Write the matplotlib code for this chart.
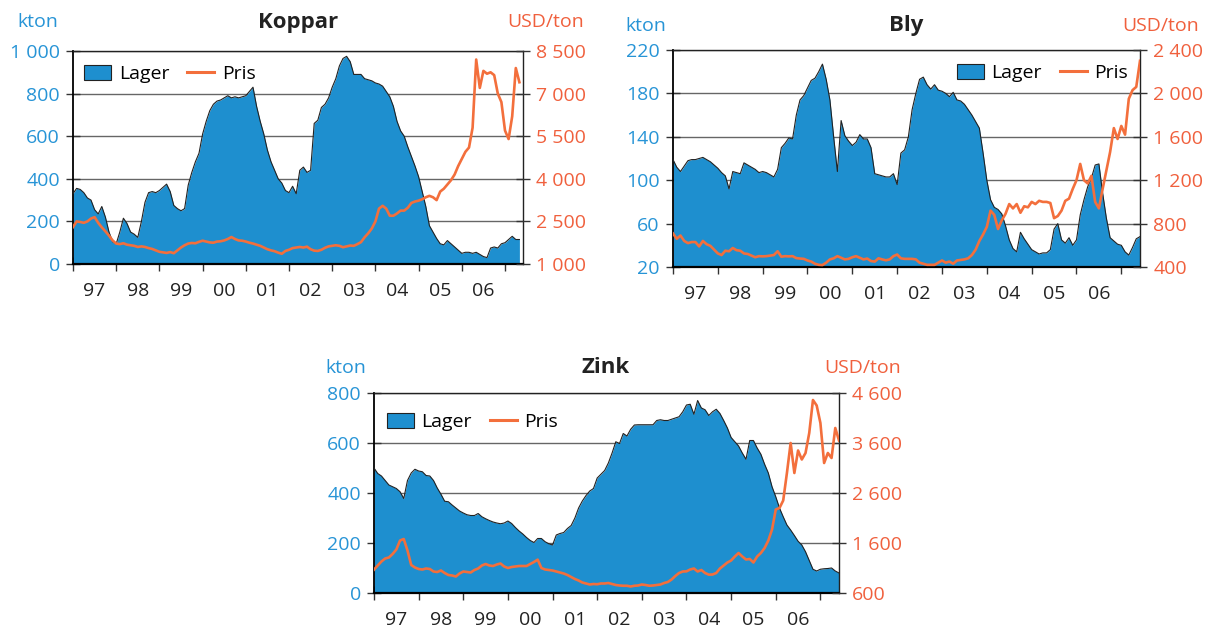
import numpy as np
import matplotlib
matplotlib.use('Agg')
import matplotlib.pyplot as plt
from matplotlib.patches import Patch
from matplotlib.lines import Line2D
from matplotlib.ticker import FuncFormatter

plt.rcParams['font.family'] = ['Open Sans', 'DejaVu Sans']

# monthly values, Jan 1997 onwards
koppar_lager = [330, 355, 350, 335, 310, 300, 255, 235, 270, 220, 150, 105,
                95, 150, 215, 190, 150, 140, 125, 200, 290, 335, 340, 335,
                345, 360, 375, 340, 275, 260, 250, 260, 370, 430, 480, 520,
                610, 670, 720, 750, 765, 770, 780, 790, 780, 785, 780, 785,
                790, 810, 830, 740, 670, 610, 535, 480, 440, 400, 380, 345,
                335, 365, 330, 440, 455, 430, 440, 660, 675, 735, 750, 780,
                830, 870, 930, 965, 975, 950, 890, 890, 890, 870, 865, 860,
                850, 845, 835, 810, 785, 740, 670, 625, 600, 550, 505, 460,
                410, 340, 270, 180, 150, 120, 95, 90, 110, 95, 80, 65,
                50, 55, 55, 50, 55, 45, 35, 30, 75, 80, 75, 95,
                100, 115, 130, 115, 115]
koppar_pris = [2300, 2500, 2480, 2450, 2500, 2600, 2650, 2450, 2290, 2150, 2000, 1830,
               1720, 1700, 1730, 1680, 1660, 1640, 1600, 1620, 1600, 1560, 1530, 1480,
               1430, 1410, 1390, 1420, 1380, 1480, 1580, 1660, 1720, 1740, 1730, 1780,
               1820, 1790, 1760, 1750, 1790, 1800, 1830, 1880, 1950, 1880, 1830, 1820,
               1790, 1750, 1720, 1680, 1640, 1580, 1520, 1480, 1450, 1400, 1360, 1460,
               1500, 1560, 1580, 1600, 1580, 1610, 1520, 1470, 1460, 1500, 1570, 1620,
               1640, 1660, 1640, 1590, 1620, 1650, 1640, 1700, 1770, 1940, 2080, 2250,
               2500, 2950, 3050, 2950, 2700, 2700, 2780, 2880, 2880, 2980, 3150, 3200,
               3230, 3280, 3350, 3400, 3350, 3250, 3550, 3650, 3800, 3950, 4150, 4450,
               4700, 4950, 5100, 5800, 8200, 7200, 7800, 7700, 7750, 7650, 7000, 6700,
               5700, 5400, 6200, 7900, 7400]

bly_lager = [119, 112, 108, 113, 118, 119, 119, 120, 121, 119, 117, 114,
             111, 107, 104, 92, 108, 107, 106, 116, 114, 112, 110, 107,
             108, 107, 105, 103, 110, 130, 134, 139, 138, 160, 174, 178,
             185, 192, 194, 200, 207, 193, 174, 140, 108, 155, 141, 136,
             132, 135, 142, 138, 138, 130, 106, 105, 104, 103, 103, 106,
             96, 125, 128, 140, 165, 180, 193, 195, 188, 184, 188, 183,
             182, 180, 177, 181, 174, 173, 170, 165, 160, 154, 148, 125,
             100, 82, 75, 73, 69, 58, 45, 37, 34, 52, 46, 41,
             36, 34, 32, 33, 33, 36, 55, 60, 45, 42, 47, 40,
             45, 68, 82, 94, 102, 114, 115, 88, 65, 47, 44, 41,
             40, 34, 31, 38, 46, 48]
bly_pris = [709, 660, 690, 640, 620, 630, 630, 590, 640, 610, 595, 560,
            525, 510, 550, 545, 575, 555, 550, 525, 520, 505, 490, 500,
            498, 500, 505, 510, 545, 495, 500, 498, 500, 482, 478, 475,
            460, 450, 430, 420, 418, 440, 470, 480, 500, 485, 470, 475,
            490, 500, 485, 470, 478, 455, 450, 480, 470, 462, 470, 500,
            515, 480, 475, 475, 475, 470, 440, 430, 420, 420, 420, 440,
            460, 440, 450, 430, 460, 465, 470, 480, 510, 560, 640, 700,
            770, 920, 880, 750, 830, 890, 980, 940, 980, 900, 960, 950,
            1000, 980, 1010, 1000, 1000, 990, 850, 870, 920, 1010, 1030, 1120,
            1200, 1350, 1200, 1170, 1240, 1000, 940, 1120, 1290, 1460, 1680, 1580,
            1700, 1620, 1950, 2030, 2060, 2300]

zink_lager = [500, 478, 468, 450, 432, 425, 418, 405, 378, 450, 480, 495,
              488, 485, 470, 468, 450, 420, 395, 367, 365, 352, 340, 328,
              320, 313, 310, 310, 318, 305, 297, 290, 284, 280, 277, 280,
              288, 278, 262, 248, 236, 222, 210, 202, 218, 218, 205, 197,
              192, 232, 238, 242, 258, 270, 300, 340, 368, 390, 408, 418,
              460, 475, 490, 520, 560, 605, 598, 638, 628, 655, 672, 673,
              673, 673, 673, 673, 690, 693, 690, 690, 695, 700, 705, 725,
              752, 755, 715, 770, 740, 733, 710, 725, 735, 718, 690, 660,
              622, 605, 588, 560, 535, 610, 610, 580, 555, 515, 480, 425,
              385, 340, 305, 272, 252, 230, 207, 192, 165, 130, 95, 88,
              95, 97, 98, 100, 88, 80]
zink_pris = [1067, 1150, 1230, 1290, 1310, 1380, 1470, 1650, 1680, 1450, 1160, 1110,
             1080, 1070, 1090, 1080, 1030, 1020, 1050, 1000, 960, 950, 930, 990,
             1030, 1020, 1010, 1060, 1090, 1150, 1180, 1150, 1140, 1170, 1190, 1130,
             1100, 1120, 1130, 1140, 1140, 1140, 1180, 1220, 1267, 1100, 1070, 1060,
             1050, 1030, 1010, 990, 960, 920, 880, 850, 810, 790, 770, 780,
             775, 790, 790, 800, 780, 760, 750, 745, 745, 730, 745, 750,
             770, 760, 745, 750, 760, 770, 800, 820, 870, 940, 1000, 1030,
             1033, 1070, 1090, 1030, 1060, 1000, 967, 970, 1000, 1090, 1150, 1210,
             1250, 1330, 1400, 1330, 1270, 1280, 1210, 1330, 1400, 1500, 1650, 1870,
             2270, 2300, 2450, 3000, 3600, 3000, 3450, 3270, 3400, 3800, 4460, 4350,
             4000, 3200, 3400, 3300, 3900, 3650]

year_labels = ['97', '98', '99', '00', '01', '02', '03', '04', '05', '06']

W, H = 1211, 634
BLUE = '#1e8fcf'
BLUE_TXT = '#2794d6'
ORANGE = '#f36f3c'
ORANGE_TXT = '#f0603d'
DARK = '#222222'
FS = 14


def fmt(v, pos):
    return '{:,.0f}'.format(v).replace(',', ' ')


def panel(box, title, lager, pris, lticks, pticks, leg_loc, leg_anchor, texts):
    l, t, r, b = box
    ax = fig.add_axes([l / W, 1 - b / H, (r - l) / W, (b - t) / H])
    x = 1997 + np.arange(len(lager)) / 12.0
    ax.fill_between(x, lticks[0], lager, color=BLUE, lw=0, zorder=2)
    ax.plot(x, lager, color=DARK, lw=0.8, zorder=3)
    ax.set_ylim(lticks[0], lticks[-1])
    ax.set_yticks(lticks)
    ax.yaxis.set_major_formatter(FuncFormatter(fmt))
    ax.grid(axis='y', color='#666666', lw=1.0, zorder=1)
    ax.set_axisbelow(True)
    ax.set_xlim(1997, 1997 + 125 / 12.0)
    ax.set_xticks(np.arange(1997, 2008))
    ax.set_xticklabels([])
    ax.set_xticks(np.arange(1997, 2007) + 0.5, minor=True)
    ax.set_xticklabels(year_labels, minor=True)
    ax.tick_params(axis='x', which='major', direction='inout', length=10,
                   color='#333333', width=1)
    ax.tick_params(axis='x', which='minor', length=0, pad=13,
                   labelsize=FS, labelcolor=DARK)
    ax.tick_params(axis='y', direction='inout', length=10, color='#333333',
                   width=1, labelsize=FS, labelcolor=BLUE_TXT, pad=4.5)
    for s in ['top', 'right']:
        ax.spines[s].set_linewidth(1.0)
        ax.spines[s].set_color(DARK)
    ax.spines['left'].set_linewidth(1.3)
    ax.spines['bottom'].set_linewidth(1.6)

    ax2 = ax.twinx()
    xp = 1997 + np.arange(len(pris)) / 12.0
    ax2.plot(xp, pris, color=ORANGE, lw=1.9, zorder=4)
    ax2.set_ylim(pticks[0], pticks[-1])
    ax2.set_yticks(pticks)
    ax2.yaxis.set_major_formatter(FuncFormatter(fmt))
    ax2.tick_params(axis='y', direction='inout', length=10, color='#333333',
                    width=1, labelsize=FS, labelcolor=ORANGE_TXT, pad=4.5)
    for s in ax2.spines.values():
        s.set_visible(False)

    handles = [Patch(facecolor=BLUE, edgecolor=DARK, lw=0.8),
               Line2D([], [], color=ORANGE, lw=2.2)]
    ax2.legend(handles, ['Lager', 'Pris'], ncol=2, loc=leg_loc,
               bbox_to_anchor=leg_anchor, frameon=False, fontsize=FS,
               handlelength=1.4, handleheight=0.8, handletextpad=0.4,
               columnspacing=0.9, borderaxespad=0, borderpad=0)

    (kx, ky), (ux, uy), (tx, ty) = texts
    fig.text(kx / W, 1 - ky / H, 'kton', color=BLUE_TXT, fontsize=FS,
             ha='left', va='baseline')
    fig.text(ux / W, 1 - uy / H, 'USD/ton', color=ORANGE_TXT, fontsize=FS,
             ha='left', va='baseline')
    fig.text(tx / W, 1 - ty / H, title, color=DARK, fontsize=16,
             fontweight='bold', ha='center', va='baseline')


fig = plt.figure(figsize=(W / 100, H / 100), dpi=100)

panel((73, 51, 523, 264), 'Koppar', koppar_lager, koppar_pris,
      [0, 200, 400, 600, 800, 1000], [1000, 2500, 4000, 5500, 7000, 8500],
      'upper left', (0.025, 0.935),
      [(17, 27), (507, 27), (298, 28)])
panel((673, 50, 1140, 267), 'Bly', bly_lager, bly_pris,
      [20, 60, 100, 140, 180, 220], [400, 800, 1200, 1600, 2000, 2400],
      'upper right', (0.975, 0.935),
      [(625, 31), (1122, 31), (906, 31)])
panel((374, 393, 839, 593), 'Zink', zink_lager, zink_pris,
      [0, 200, 400, 600, 800], [600, 1600, 2600, 3600, 4600],
      'upper left', (0.027, 0.90),
      [(325, 373), (824, 373), (606, 373)])

fig.savefig('out.png', dpi=100)
